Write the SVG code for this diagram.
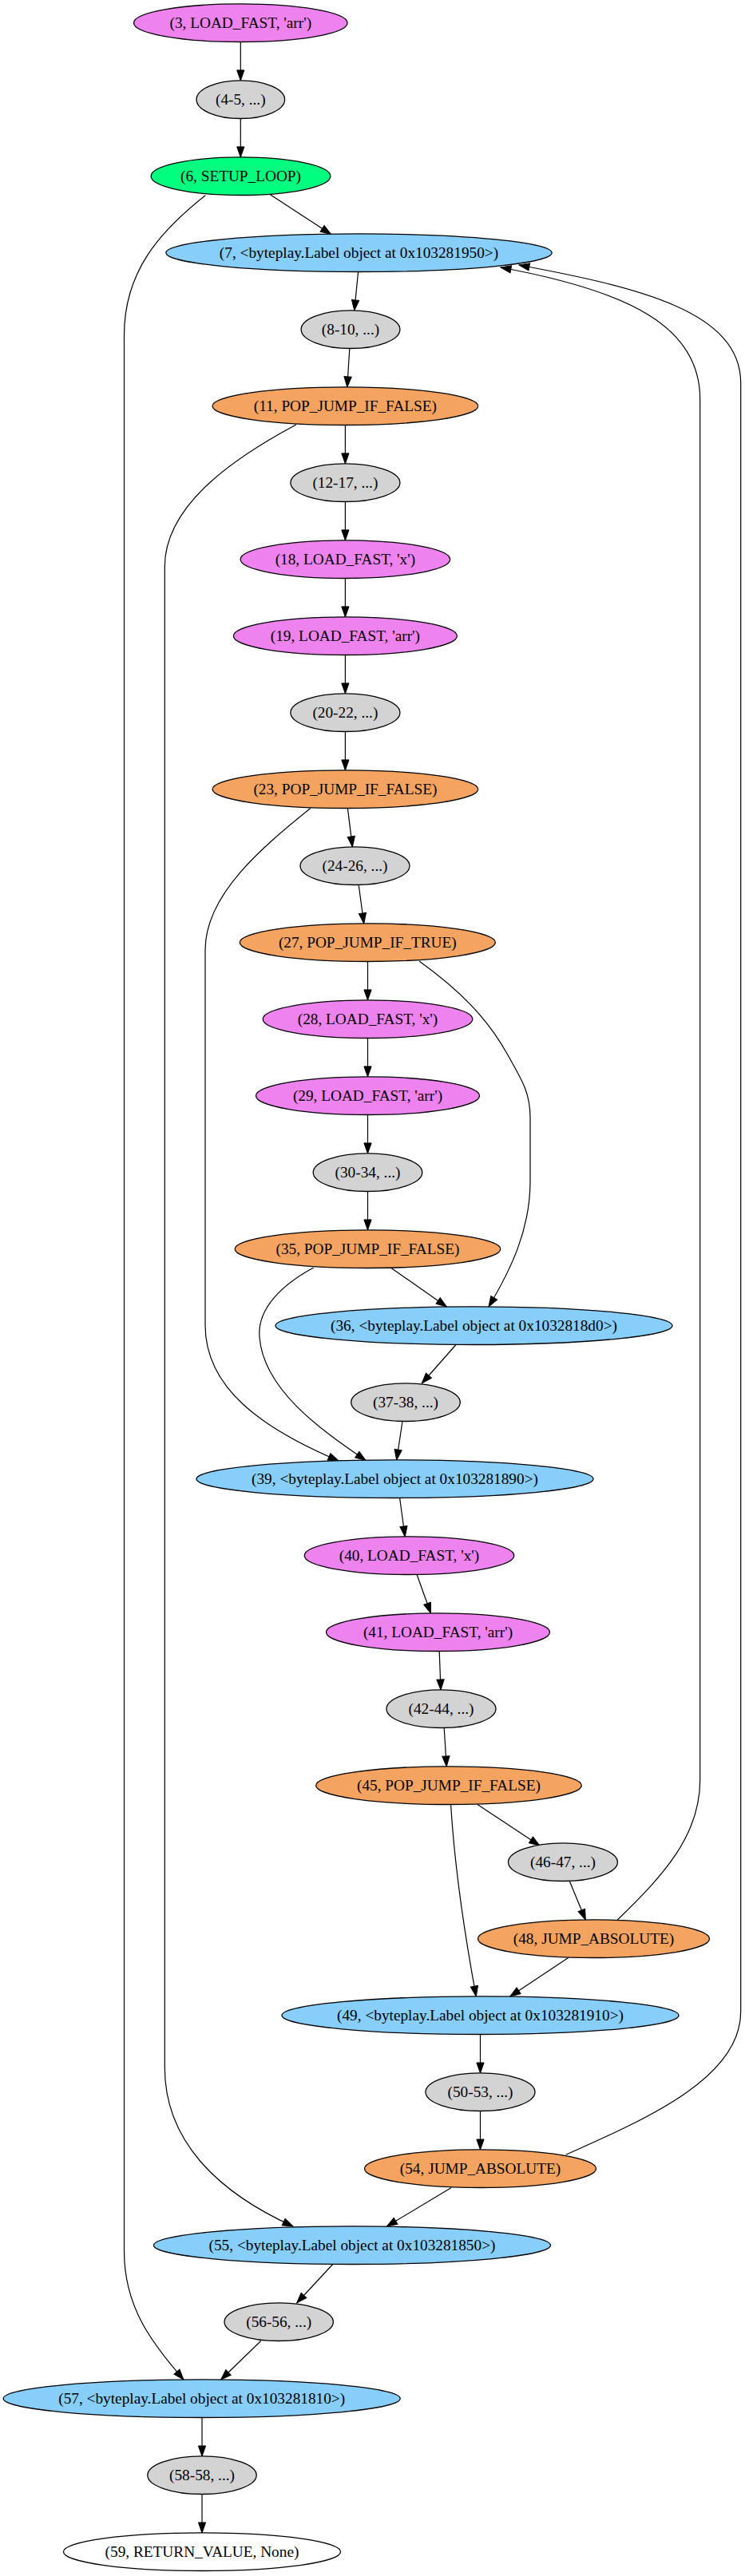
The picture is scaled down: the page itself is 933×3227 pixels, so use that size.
<svg xmlns="http://www.w3.org/2000/svg" width="933" height="3227" viewBox="0 0 933 3227">
<defs>
<marker id="arr" markerUnits="userSpaceOnUse" markerWidth="14" markerHeight="10" refX="13" refY="4.6" orient="auto" overflow="visible">
<path d="M0,0 L13,4.6 L0,9.2 z" fill="#000" stroke="#000" stroke-width="1"/>
</marker>
</defs>
<style>
.n ellipse{stroke:#000;stroke-width:1.3}
.n text{font-family:"Liberation Serif","Times New Roman",serif;font-size:19.3px;text-anchor:middle;fill:#000}
.v ellipse{fill:#ee82ee}
.g ellipse{fill:#d3d3d3}
.s ellipse{fill:#00ff7f}
.b ellipse{fill:#87cefa}
.o ellipse{fill:#f4a460}
.w ellipse{fill:#fff}
#edges path{fill:none;stroke:#000;stroke-width:1.2;marker-end:url(#arr)}
</style>
<rect width="933" height="3227" fill="#fff"/>
<g id="edges">
<path d="M301.3,52.5 L301.3,100.9"/>
<path d="M301.3,148.5 L301.3,196.9"/>
<path d="M338,243.5 L414.5,293.4"/>
<path d="M257.2,244.8 C200,290 155.5,340 155.5,420 L155.5,2820 C155.5,2890 190,2935 230,2981"/>
<path d="M448.6,340.5 L443.8,388.9"/>
<path d="M437.8,436.5 L434.8,484.9"/>
<path d="M432.4,532.5 L432.4,580.9"/>
<path d="M370.8,532 C300,570 206.3,630 206.3,710 L206.3,2590 C206.3,2680 270,2745 367,2789"/>
<path d="M432.4,628.5 L432.4,676.9"/>
<path d="M432.4,724.5 L432.4,772.9"/>
<path d="M432.4,820.5 L432.4,868.9"/>
<path d="M432.4,916.5 L432.4,964.9"/>
<path d="M435.4,1012.5 L441.4,1060.9"/>
<path d="M388.8,1012.5 C330,1060 257,1120 257,1190 L257,1660 C257,1740 330,1790 424,1830"/>
<path d="M449.2,1108.5 L455.7,1156.9"/>
<path d="M460.5,1204.5 L460.5,1252.9"/>
<path d="M525,1204 C575,1240 610,1275 635,1320 C655,1355 664,1370 664,1400 L664,1480 C664,1540 640,1590 612,1637"/>
<path d="M460.5,1300.5 L460.5,1348.9"/>
<path d="M460.5,1396.5 L460.5,1444.9"/>
<path d="M460.5,1492.5 L460.5,1540.9"/>
<path d="M490,1588.5 L559.3,1636.9"/>
<path d="M392.7,1588 C352,1610 322,1640 325,1675 C330,1740 400,1790 458,1829.5"/>
<path d="M571,1684.5 L528.3,1733"/>
<path d="M504,1780.5 L496.7,1829"/>
<path d="M500.6,1876.5 L507.2,1925"/>
<path d="M522.1,1972.5 L539.5,2021"/>
<path d="M550.2,2068.5 L552,2117"/>
<path d="M556.2,2164.5 L559.2,2213"/>
<path d="M598,2260.5 L675.8,2312"/>
<path d="M564.6,2260.5 C570,2350 585,2440 596.3,2501"/>
<path d="M713.3,2356.5 L733.3,2405"/>
<path d="M711.7,2452.5 L638.8,2501"/>
<path d="M773.3,2405 C830,2350 876.7,2300 876.7,2230 L876.7,500 C876.7,410 790,365 627,335"/>
<path d="M601.5,2548.5 L601.5,2597"/>
<path d="M601.5,2644.5 L601.5,2693"/>
<path d="M708.7,2699.3 C820,2650 927.7,2600 927.7,2520 L927.7,480 C927.7,390 800,360 650,332"/>
<path d="M565.2,2740.5 L484.4,2789"/>
<path d="M416.7,2836.5 L371.7,2885"/>
<path d="M326.7,2932.5 L276.7,2981"/>
<path d="M253,3028.5 L253,3077"/>
<path d="M253,3124.5 L253,3173"/>
</g>
<g id="n3" class="n v"><ellipse cx="301.3" cy="28.7" rx="133.8" ry="23.8"/><text x="301.3" y="35.2">(3, LOAD_FAST, 'arr')</text></g>
<g id="n4_5" class="n g"><ellipse cx="301.3" cy="124.7" rx="55.3" ry="23.8"/><text x="301.3" y="131.2">(4-5, ...)</text></g>
<g id="n6" class="n s"><ellipse cx="301.5" cy="220.7" rx="112.4" ry="23.8"/><text x="301.5" y="227.2">(6, SETUP_LOOP)</text></g>
<g id="n7" class="n b"><ellipse cx="449.5" cy="316.7" rx="241.6" ry="23.8"/><text x="449.5" y="323.2">(7, &lt;byteplay.Label object at 0x103281950&gt;)</text></g>
<g id="n8_10" class="n g"><ellipse cx="439" cy="412.7" rx="61.9" ry="23.8"/><text x="439" y="419.2">(8-10, ...)</text></g>
<g id="n11" class="n o"><ellipse cx="432.4" cy="508.7" rx="166.3" ry="23.8"/><text x="432.4" y="515.2">(11, POP_JUMP_IF_FALSE)</text></g>
<g id="n12_17" class="n g"><ellipse cx="432.4" cy="604.7" rx="68.5" ry="23.8"/><text x="432.4" y="611.2">(12-17, ...)</text></g>
<g id="n18" class="n v"><ellipse cx="432.4" cy="700.7" rx="131.3" ry="23.8"/><text x="432.4" y="707.2">(18, LOAD_FAST, 'x')</text></g>
<g id="n19" class="n v"><ellipse cx="432.4" cy="796.7" rx="140" ry="23.8"/><text x="432.4" y="803.2">(19, LOAD_FAST, 'arr')</text></g>
<g id="n20_22" class="n g"><ellipse cx="432.4" cy="892.7" rx="68.5" ry="23.8"/><text x="432.4" y="899.2">(20-22, ...)</text></g>
<g id="n23" class="n o"><ellipse cx="432.4" cy="988.7" rx="166.3" ry="23.8"/><text x="432.4" y="995.2">(23, POP_JUMP_IF_FALSE)</text></g>
<g id="n24_26" class="n g"><ellipse cx="444.5" cy="1084.7" rx="68.5" ry="23.8"/><text x="444.5" y="1091.2">(24-26, ...)</text></g>
<g id="n27" class="n o"><ellipse cx="460.3" cy="1180.7" rx="160" ry="23.8"/><text x="460.3" y="1187.2">(27, POP_JUMP_IF_TRUE)</text></g>
<g id="n28" class="n v"><ellipse cx="460.5" cy="1276.7" rx="131.3" ry="23.8"/><text x="460.5" y="1283.2">(28, LOAD_FAST, 'x')</text></g>
<g id="n29" class="n v"><ellipse cx="460.5" cy="1372.7" rx="140" ry="23.8"/><text x="460.5" y="1379.2">(29, LOAD_FAST, 'arr')</text></g>
<g id="n30_34" class="n g"><ellipse cx="460.5" cy="1468.7" rx="68.3" ry="23.8"/><text x="460.5" y="1475.2">(30-34, ...)</text></g>
<g id="n35" class="n o"><ellipse cx="460.5" cy="1564.7" rx="166.3" ry="23.8"/><text x="460.5" y="1571.2">(35, POP_JUMP_IF_FALSE)</text></g>
<g id="n36" class="n b"><ellipse cx="593.5" cy="1660.7" rx="248.5" ry="23.8"/><text x="593.5" y="1667.2">(36, &lt;byteplay.Label object at 0x1032818d0&gt;)</text></g>
<g id="n37_38" class="n g"><ellipse cx="508" cy="1756.7" rx="68.3" ry="23.8"/><text x="508" y="1763.2">(37-38, ...)</text></g>
<g id="n39" class="n b"><ellipse cx="494.5" cy="1852.7" rx="248.5" ry="23.8"/><text x="494.5" y="1859.2">(39, &lt;byteplay.Label object at 0x103281890&gt;)</text></g>
<g id="n40" class="n v"><ellipse cx="512.5" cy="1948.7" rx="131.3" ry="23.8"/><text x="512.5" y="1955.2">(40, LOAD_FAST, 'x')</text></g>
<g id="n41" class="n v"><ellipse cx="548.5" cy="2044.7" rx="140" ry="23.8"/><text x="548.5" y="2051.2">(41, LOAD_FAST, 'arr')</text></g>
<g id="n42_44" class="n g"><ellipse cx="552.5" cy="2140.7" rx="68.5" ry="23.8"/><text x="552.5" y="2147.2">(42-44, ...)</text></g>
<g id="n45" class="n o"><ellipse cx="562" cy="2236.7" rx="166.3" ry="23.8"/><text x="562" y="2243.2">(45, POP_JUMP_IF_FALSE)</text></g>
<g id="n46_47" class="n g"><ellipse cx="705" cy="2332.7" rx="68.5" ry="23.8"/><text x="705" y="2339.2">(46-47, ...)</text></g>
<g id="n48" class="n o"><ellipse cx="743.5" cy="2428.7" rx="145" ry="23.8"/><text x="743.5" y="2435.2">(48, JUMP_ABSOLUTE)</text></g>
<g id="n49" class="n b"><ellipse cx="601.5" cy="2524.7" rx="248.5" ry="23.8"/><text x="601.5" y="2531.2">(49, &lt;byteplay.Label object at 0x103281910&gt;)</text></g>
<g id="n50_53" class="n g"><ellipse cx="601.5" cy="2620.7" rx="68.5" ry="23.8"/><text x="601.5" y="2627.2">(50-53, ...)</text></g>
<g id="n54" class="n o"><ellipse cx="601.5" cy="2716.7" rx="145" ry="23.8"/><text x="601.5" y="2723.2">(54, JUMP_ABSOLUTE)</text></g>
<g id="n55" class="n b"><ellipse cx="441" cy="2812.7" rx="248.5" ry="23.8"/><text x="441" y="2819.2">(55, &lt;byteplay.Label object at 0x103281850&gt;)</text></g>
<g id="n56_56" class="n g"><ellipse cx="349.2" cy="2908.7" rx="68.2" ry="23.8"/><text x="349.2" y="2915.2">(56-56, ...)</text></g>
<g id="n57" class="n b"><ellipse cx="252.7" cy="3004.7" rx="248.5" ry="23.8"/><text x="252.7" y="3011.2">(57, &lt;byteplay.Label object at 0x103281810&gt;)</text></g>
<g id="n58_58" class="n g"><ellipse cx="253" cy="3100.7" rx="68.2" ry="23.8"/><text x="253" y="3107.2">(58-58, ...)</text></g>
<g id="n59" class="n w"><ellipse cx="253" cy="3196.7" rx="173.5" ry="23.8"/><text x="253" y="3203.2">(59, RETURN_VALUE, None)</text></g>
</svg>
